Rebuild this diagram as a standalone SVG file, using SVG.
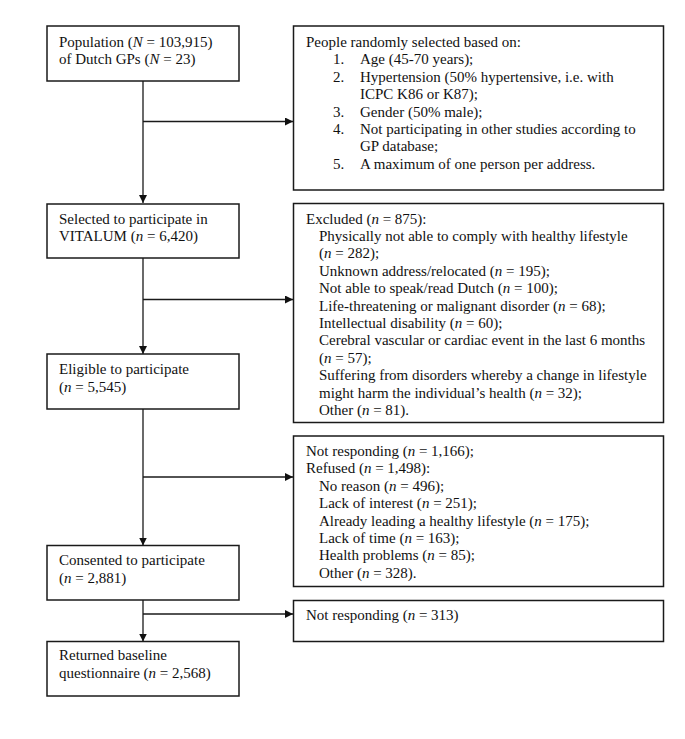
<svg xmlns="http://www.w3.org/2000/svg" width="685" height="739" viewBox="0 0 685 739">
<style>
.box{fill:#fff;stroke:#1a1a1a;stroke-width:1.5}
.ln{fill:none;stroke:#1a1a1a;stroke-width:1.3}
text{font-family:"Liberation Serif","Times New Roman",serif;font-size:15px;fill:#111}
.i{font-style:italic}
</style>
<defs>
<marker id="ah" viewBox="0 0 10 10" refX="10" refY="5" markerWidth="8" markerHeight="8" markerUnits="userSpaceOnUse" orient="auto">
<path d="M0,0 L10,5 L0,10 z" fill="#111"/>
</marker>
</defs>
<rect width="685" height="739" fill="#fff"/>
<g id="connectors">
<line class="ln" x1="143" y1="81" x2="143" y2="203" marker-end="url(#ah)"/>
<line class="ln" x1="143" y1="121.5" x2="293" y2="121.5" marker-end="url(#ah)"/>
<line class="ln" x1="143" y1="258" x2="143" y2="354" marker-end="url(#ah)"/>
<line class="ln" x1="143" y1="299.5" x2="293" y2="299.5" marker-end="url(#ah)"/>
<line class="ln" x1="143" y1="409" x2="143" y2="545.5" marker-end="url(#ah)"/>
<line class="ln" x1="143" y1="477" x2="293" y2="477" marker-end="url(#ah)"/>
<line class="ln" x1="143" y1="600" x2="143" y2="641.5" marker-end="url(#ah)"/>
<line class="ln" x1="143" y1="614" x2="293" y2="614" marker-end="url(#ah)"/>
</g>
<g id="population">
<rect class="box" x="47" y="26" width="192" height="55"/>
<text x="59" y="47">Population (<tspan class="i">N</tspan> = 103,915)</text>
<text x="59" y="64">of Dutch GPs (<tspan class="i">N</tspan> = 23)</text>
</g>
<g id="selection-criteria">
<rect class="box" x="293.5" y="26" width="370" height="164"/>
<text x="306" y="47">People randomly selected based on:</text>
<text x="333" y="64.4">1.</text><text x="360" y="64.4">Age (45-70 years);</text>
<text x="333" y="81.8">2.</text><text x="360" y="81.8">Hypertension (50% hypertensive, i.e. with</text>
<text x="360" y="99.2">ICPC K86 or K87);</text>
<text x="333" y="116.6">3.</text><text x="360" y="116.6">Gender (50% male);</text>
<text x="333" y="134">4.</text><text x="360" y="134">Not participating in other studies according to</text>
<text x="360" y="151.4">GP database;</text>
<text x="333" y="168.8">5.</text><text x="360" y="168.8">A maximum of one person per address.</text>
</g>
<g id="selected">
<rect class="box" x="47" y="204" width="192" height="54"/>
<text x="59" y="223.5">Selected to participate in</text>
<text x="59" y="241">VITALUM (<tspan class="i">n</tspan> = 6,420)</text>
</g>
<g id="excluded">
<rect class="box" x="293.5" y="203.5" width="370" height="219"/>
<text x="306" y="223.5">Excluded (<tspan class="i">n</tspan> = 875):</text>
<text x="319" y="240.9">Physically not able to comply with healthy lifestyle</text>
<text x="319" y="258.3">(<tspan class="i">n</tspan> = 282);</text>
<text x="319" y="275.7">Unknown address/relocated (<tspan class="i">n</tspan> = 195);</text>
<text x="319" y="293.1">Not able to speak/read Dutch (<tspan class="i">n</tspan> = 100);</text>
<text x="319" y="310.5">Life-threatening or malignant disorder (<tspan class="i">n</tspan> = 68);</text>
<text x="319" y="327.9">Intellectual disability (<tspan class="i">n</tspan> = 60);</text>
<text x="319" y="345.3">Cerebral vascular or cardiac event in the last 6 months</text>
<text x="319" y="362.7">(<tspan class="i">n</tspan> = 57);</text>
<text x="319" y="380.1">Suffering from disorders whereby a change in lifestyle</text>
<text x="319" y="397.5">might harm the individual’s health (<tspan class="i">n</tspan> = 32);</text>
<text x="319" y="414.9">Other (<tspan class="i">n</tspan> = 81).</text>
</g>
<g id="eligible">
<rect class="box" x="47" y="354" width="192" height="55"/>
<text x="59" y="374">Eligible to participate</text>
<text x="59" y="391.5">(<tspan class="i">n</tspan> = 5,545)</text>
</g>
<g id="refused">
<rect class="box" x="293.5" y="436" width="370" height="150.5"/>
<text x="306" y="456">Not responding (<tspan class="i">n</tspan> = 1,166);</text>
<text x="306" y="473.4">Refused (<tspan class="i">n</tspan> = 1,498):</text>
<text x="319" y="490.8">No reason (<tspan class="i">n</tspan> = 496);</text>
<text x="319" y="508.2">Lack of interest (<tspan class="i">n</tspan> = 251);</text>
<text x="319" y="525.6">Already leading a healthy lifestyle (<tspan class="i">n</tspan> = 175);</text>
<text x="319" y="543">Lack of time (<tspan class="i">n</tspan> = 163);</text>
<text x="319" y="560.4">Health problems (<tspan class="i">n</tspan> = 85);</text>
<text x="319" y="577.8">Other (<tspan class="i">n</tspan> = 328).</text>
</g>
<g id="consented">
<rect class="box" x="47" y="545.5" width="192" height="54.5"/>
<text x="59" y="565">Consented to participate</text>
<text x="59" y="582.5">(<tspan class="i">n</tspan> = 2,881)</text>
</g>
<g id="not-responding">
<rect class="box" x="293.5" y="600.5" width="370" height="41"/>
<text x="306" y="620">Not responding (<tspan class="i">n</tspan> = 313)</text>
</g>
<g id="returned">
<rect class="box" x="47" y="641.5" width="192" height="54.5"/>
<text x="59" y="660">Returned baseline</text>
<text x="59" y="678">questionnaire (<tspan class="i">n</tspan> = 2,568)</text>
</g>
</svg>
